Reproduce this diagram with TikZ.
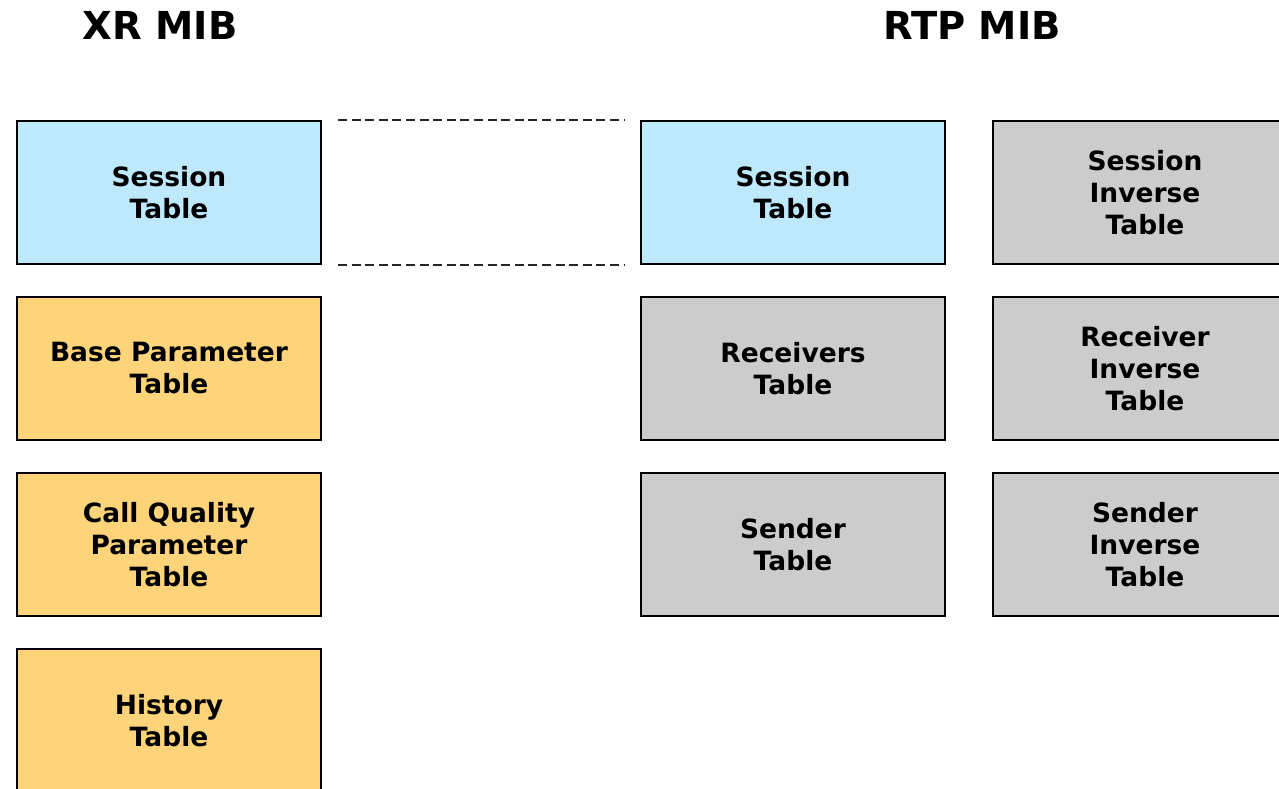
\documentclass[tikz,border=0pt]{standalone}
\usepackage{fontspec}
\setmainfont{DejaVu Sans}
\definecolor{sblue}{RGB}{190,232,252}
\definecolor{sorange}{RGB}{253,212,122}
\definecolor{sgray}{RGB}{204,204,204}
\begin{document}
\begin{tikzpicture}[x=1pt,y=-1pt,
  tbl/.style={draw=black,line width=2pt,minimum width=304pt,minimum height=143pt,
    align=center,font=\fontsize{26.5}{32}\selectfont\bfseries,inner sep=0pt,anchor=north west},
  blu/.style={tbl,fill=sblue},
  org/.style={tbl,fill=sorange},
  gry/.style={tbl,fill=sgray},
  ttl/.style={font=\fontsize{38.5}{44}\selectfont\bfseries},
  dline/.style={draw=black!85,line width=1.8pt,dash pattern=on 9pt off 4.6pt}]
\useasboundingbox (0,0) rectangle (1279,789);
\begin{scope}
\clip (0,0) rectangle (1279,789);
\node[ttl] (xr) at (160,25) {XR MIB};
\node[ttl] (rtp) at (972,25) {RTP MIB};
\node[blu] (xs) at (16,120) {Session\\Table};
\node[org] (xb) at (16,296) {Base Parameter\\Table};
\node[org] (xc) at (16,472) {Call Quality\\Parameter\\Table};
\node[org] (xh) at (16,648) {History\\Table};
\node[blu] (rs) at (640,120) {Session\\Table};
\node[gry] (rr) at (640,296) {Receivers\\Table};
\node[gry] (rn) at (640,472) {Sender\\Table};
\node[gry] (ris) at (992,120) {Session\\Inverse\\Table};
\node[gry] (rir) at (992,296) {Receiver\\Inverse\\Table};
\node[gry] (rin) at (992,472) {Sender\\Inverse\\Table};
\coordinate (a1) at ([xshift=16pt]xs.north east);
\coordinate (a2) at ([xshift=-15pt]rs.north west);
\coordinate (b1) at ([xshift=16pt]xs.south east);
\coordinate (b2) at ([xshift=-15pt]rs.south west);
\draw[dline] (a1) -- (a2);
\draw[dline] (b1) -- (b2);
\end{scope}
\end{tikzpicture}
\end{document}
